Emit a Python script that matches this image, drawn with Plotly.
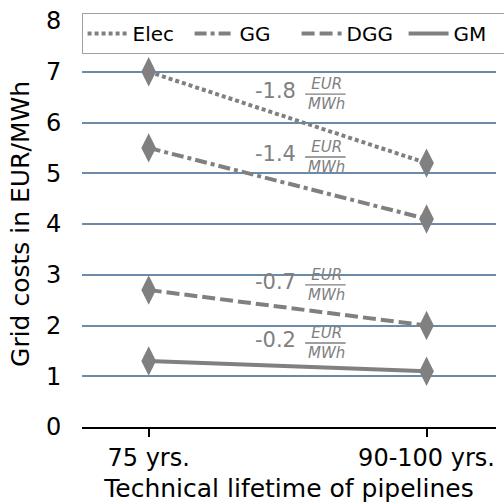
import plotly.graph_objects as go

categories = ["75 yrs.", "90-100 yrs."]
series_names = ["Elec", "GG", "DGG", "GM"]
elec = [7.0, 5.2]
gg = [5.5, 4.1]
dgg = [2.7, 2.0]
gm = [1.3, 1.1]
dashes = ["4px,3px", "12px,4px,4px,4px", "13px,5px", "solid"]
deltas = ["-1.8", "-1.4", "-0.7", "-0.2"]
delta_y = [6.56, 5.32, 2.80, 1.655]

GRAY = "#808080"
FONT = "DejaVu Sans"
xs = [0, 1]
x_num = 0.538   # right edge of the number
x_frac = 0.563  # left edge of fraction bar
FRAC_W = 42

fig = go.Figure()
for name, vals, d in zip(series_names, [elec, gg, dgg, gm], dashes):
    fig.add_trace(go.Scatter(
        x=xs, y=vals, name=name, mode="lines",
        line=dict(color=GRAY, width=4, dash=d),
    ))
for vals in [elec, gg, dgg, gm]:
    fig.add_trace(go.Scatter(
        x=xs, y=vals, mode="markers", showlegend=False, hoverinfo="skip",
        marker=dict(symbol="diamond-tall", size=21, color=GRAY, line=dict(width=0)),
    ))

for dl, yy in zip(deltas, delta_y):
    fig.add_annotation(x=x_num, y=yy, xref="x", yref="y", text=dl,
                       showarrow=False, xanchor="right", yanchor="middle", yshift=3,
                       font=dict(family=FONT, size=21, color=GRAY))
    fig.add_annotation(x=x_frac, y=yy, xref="x", yref="y",
                       text="<i>EUR</i><br><i>MWh</i>",
                       showarrow=False, xanchor="center", yanchor="middle",
                       xshift=FRAC_W / 2, yshift=0,
                       font=dict(family=FONT, size=15, color=GRAY))
    fig.add_annotation(x=x_frac, y=yy, ax=FRAC_W, ay=0, xref="x", yref="y",
                       axref="pixel", ayref="pixel", text="",
                       showarrow=True, arrowhead=0, arrowwidth=1.3,
                       arrowcolor=GRAY, standoff=0, startstandoff=0)

fig.update_layout(
    width=504, height=503,
    margin=dict(l=82, r=8, t=21, b=76, autoexpand=False),
    plot_bgcolor="white", paper_bgcolor="white",
    font=dict(family=FONT, size=24, color="black"),
    showlegend=True,
    legend=dict(orientation="h", x=-0.001, xanchor="left", y=1.02, yanchor="top",
                bordercolor="#a0a0a0", borderwidth=1, bgcolor="white",
                font=dict(family=FONT, size=20), itemwidth=40,
                entrywidth=52, entrywidthmode="pixels",
                tracegroupgap=0),
    xaxis=dict(
        tickmode="array", tickvals=xs, ticktext=categories,
        range=[-0.24, 1.25], showgrid=False, zeroline=False,
        showline=True, linecolor="black", linewidth=2,
        ticks="outside", ticklen=8, tickwidth=1.5, tickcolor="black",
        title=dict(text="Technical lifetime of pipelines", font=dict(size=25), standoff=10),
        tickfont=dict(size=24),
    ),
    yaxis=dict(
        range=[0, 8], dtick=1, showgrid=True, gridcolor="#6a8caa", gridwidth=2,
        zeroline=False, showline=False, ticks="outside", ticklen=15,
        tickcolor="rgba(0,0,0,0)",
        title=dict(text="Grid costs in EUR/MWh", font=dict(size=25), standoff=9),
        tickfont=dict(size=24),
    ),
)

fig.write_html("out.html")
